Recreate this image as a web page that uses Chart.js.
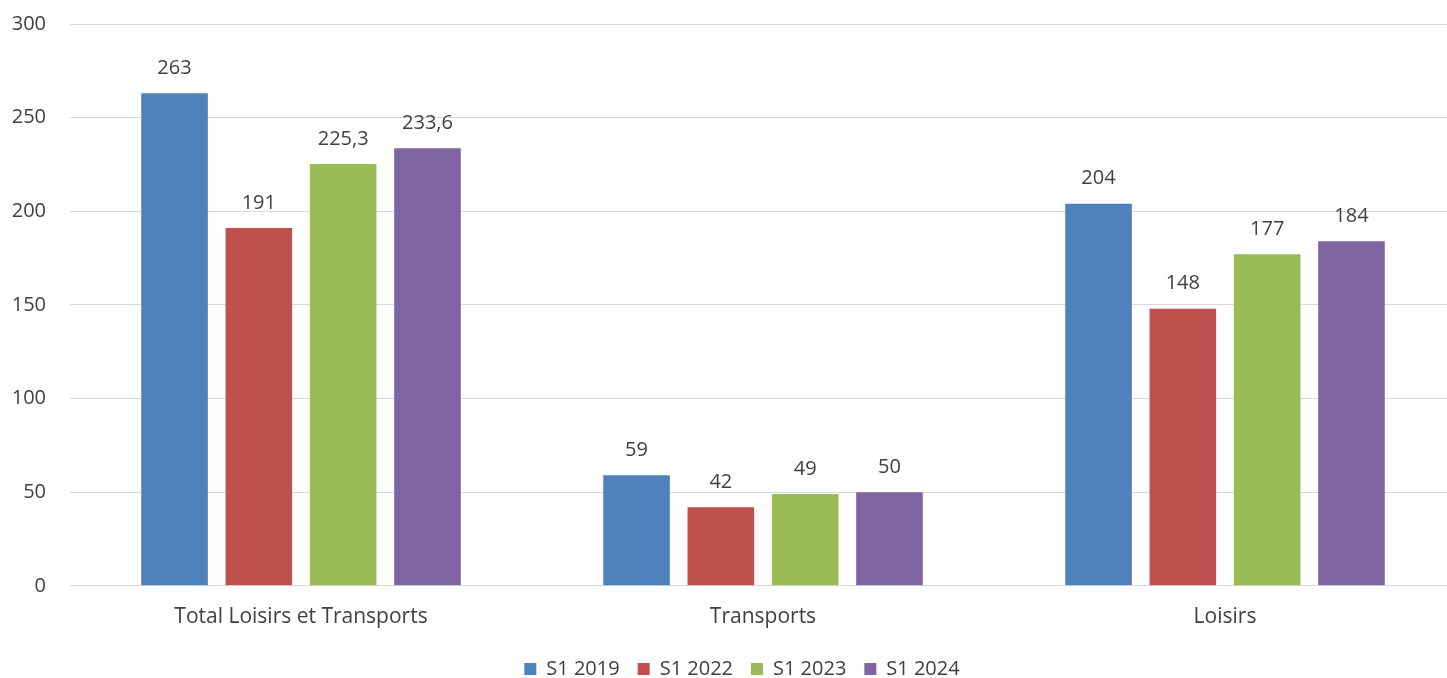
<!DOCTYPE html>
<html>
<head>
<meta charset="utf-8">
<script src="https://cdn.jsdelivr.net/npm/chart.js@4"></script>
<style>
  html, body { margin: 0; padding: 0; background: #fff; overflow: hidden; }
  #wrap { width: 1456px; height: 690px; margin-top: -12px; }
</style>
</head>
<body>
<div id="wrap"><canvas id="c"></canvas></div>
<script>
const categories = ['Total Loisirs et Transports', 'Transports', 'Loisirs'];
const seriesNames = ['S1 2019', 'S1 2022', 'S1 2023', 'S1 2024'];
const s2019 = [263, 59, 204];
const s2022 = [191, 42, 148];
const s2023 = [225.3, 49, 177];
const s2024 = [233.6, 50, 184];
const colors = ['#4F81BD', '#C0504D', '#9BBB59', '#8064A2'];

const FONT = "'Open Sans', sans-serif";
const TEXT = '#404040';

const fmt = v => String(v).replace('.', ',');

// value labels above each bar
const valueLabels = {
    id: 'valueLabels',
    afterDatasetsDraw(chart) {
        const ctx = chart.ctx;
        ctx.save();
        ctx.font = `20px ${FONT}`;
        ctx.fillStyle = TEXT;
        ctx.textAlign = 'center';
        ctx.textBaseline = 'middle';
        chart.data.datasets.forEach((ds, i) => {
            chart.getDatasetMeta(i).data.forEach((bar, j) => {
                ctx.fillText(fmt(ds.data[j]), bar.x, bar.y - 25);
            });
        });
        ctx.restore();
    },
};

// nudge the legend a bit to the right, like the original
const legendShift = {
    id: 'legendShift',
    afterLayout(chart) {
        if (chart.legend) {
            chart.legend.left += 14;
            chart.legend.right += 14;
        }
    },
};

new Chart(document.getElementById('c').getContext('2d'), {
    type: 'bar',
    data: {
        labels: categories,
        datasets: [s2019, s2022, s2023, s2024].map((data, i) => ({
            label: seriesNames[i],
            data,
            backgroundColor: colors[i],
            borderWidth: 0,
            barPercentage: 0.79,
            categoryPercentage: 0.73,
        })),
    },
    options: {
        responsive: true,
        maintainAspectRatio: false,
        animation: false,
        layout: { padding: { top: 0, right: 0, bottom: -11, left: 0 } },
        plugins: {
            legend: {
                position: 'bottom',
                labels: {
                    color: TEXT,
                    font: { family: FONT, size: 20 },
                    boxWidth: 12,
                    boxHeight: 12,
                    padding: 18,
                },
            },
            tooltip: { enabled: false },
        },
        scales: {
            x: {
                ticks: { color: TEXT, font: { family: FONT, size: 21 }, padding: 11 },
                grid: { display: false },
                border: { color: '#d9d9d9', width: 1 },
            },
            y: {
                min: 0,
                max: 300,
                ticks: { stepSize: 50, color: TEXT, font: { family: FONT, size: 20 }, padding: 24 },
                grid: { color: '#d9d9d9', drawTicks: false },
                border: { display: false },
                afterFit: scale => { scale.width = 70; },
            },
        },
    },
    plugins: [valueLabels, legendShift],
});
</script>
</body>
</html>
